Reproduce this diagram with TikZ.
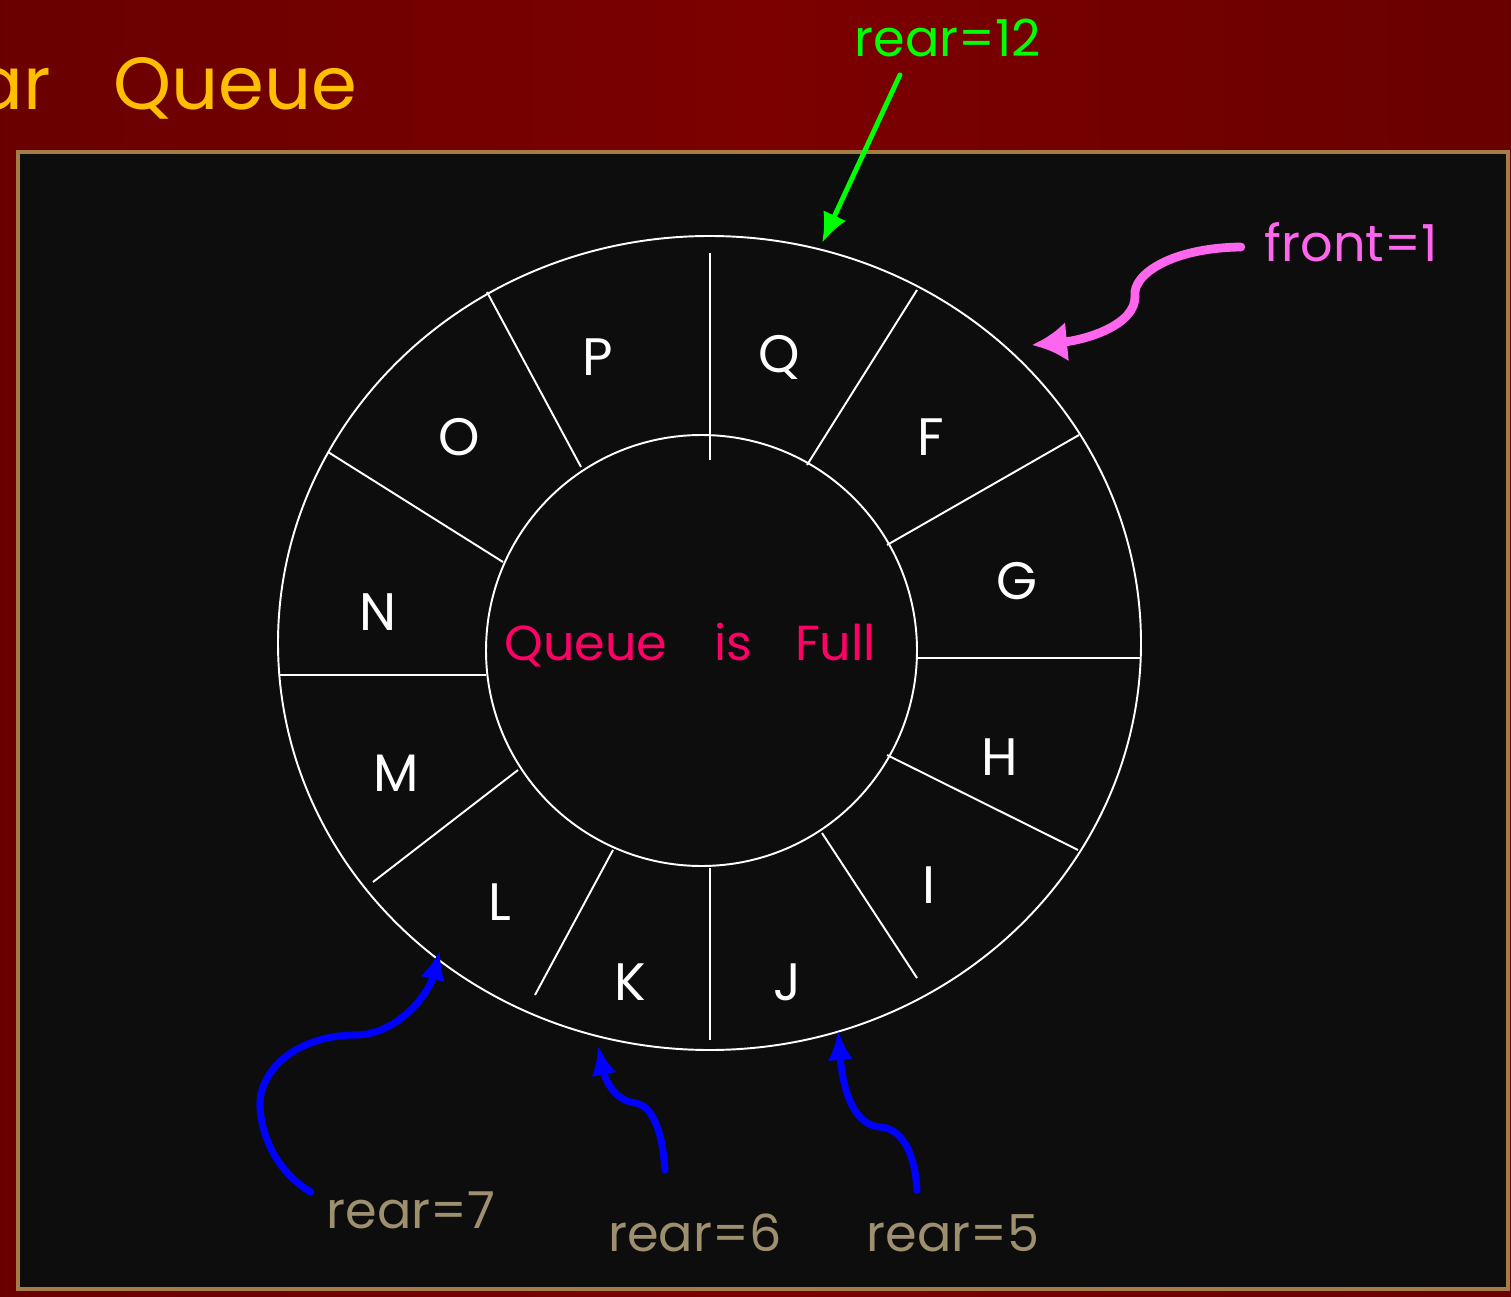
\documentclass[tikz,border=0pt]{standalone}
\usepackage{fontspec}
\setmainfont{Poppins}
\usetikzlibrary{positioning, arrows.meta, calc}
\definecolor{bgred}{RGB}{124,0,0}
\definecolor{boxfill}{RGB}{13,13,13}
\definecolor{boxborder}{RGB}{165,124,69}
\definecolor{titleamber}{RGB}{255,191,0}
\definecolor{fullpink}{RGB}{255,0,102}
\definecolor{frontpink}{RGB}{255,102,238}
\definecolor{reargreen}{RGB}{0,255,0}
\definecolor{rearblue}{RGB}{0,0,255}
\definecolor{reartan}{RGB}{158,143,110}
\tikzset{
  cell/.style={text=white, font=\fontsize{30}{36}\selectfont, inner sep=0pt},
  ptrlabel/.style={font=\fontsize{29}{35}\selectfont, inner sep=2pt},
  spoke/.style={white, line width=1.1pt},
  ptrarrow/.style={line width=4pt, line cap=round, -{Latex[length=6mm,width=5mm]}}
}

\begin{document}
\begin{tikzpicture}[x=0.02cm, y=-0.02cm]
  \useasboundingbox (0,0) rectangle (1511,1297);
  \clip (0,0) rectangle (1511,1297);

  % fondo rojo y caja negra
  \shade[left color=bgred!85!black, right color=bgred!85!black, middle color=bgred] (0,0) rectangle (1511,1297);
  \draw[boxborder, line width=2.2pt, fill=boxfill] (18,152) rectangle (1508,1289);

  % titulo (cortado a la izquierda)
  \node[anchor=east, text=titleamber, font=\fontsize{42}{48}\selectfont, inner sep=0pt] (title) at (358,88) {ar\hspace{1.25cm}Queue};

  % anillo de la cola
  \draw[white, line width=1.1pt] (709.5,643) ellipse [x radius=431.5, y radius=407];
  \draw[white, line width=1.1pt] (701.5,650.5) circle [radius=215.5];
  \foreach \ax/\ay/\bx/\by in {
      710/460/710/253, 807/465/917/290, 887/545/1079/435,
      918/658/1141/658, 887/755/1078/850, 822/833/917/978,
      710/868/710/1040, 613/850/535/995, 518/770/373/882,
      486/675/279/675, 503/562/328/452, 581/467/487/292
  } {
    \draw[spoke] (\ax,\ay) -- (\bx,\by);
  }

  % elementos
  \foreach \name/\px/\py in {
      P/598/357, Q/779/357, F/931/437, G/1017/581, H/1000/757, I/929/885,
      J/787/982, K/630/982, L/500/902, M/396/773, N/378/612, O/459/437
  } {
    \node[cell] (cell\name) at (\px,\py) {\name};
  }

  \node[text=fullpink, font=\fontsize{28}{34}\selectfont, inner sep=0pt] (full) at (690,645) {Queue\hspace{0.95cm}is\hspace{0.85cm}Full};

  % punteros
  \node[ptrlabel, text=reargreen] (r12) at (948,38) {rear=12};
  \node[ptrlabel, text=frontpink] (front) at (1351,242) {front=1};
  \node[ptrlabel, text=reartan] (r7) at (411,1210) {rear=7};
  \node[ptrlabel, text=reartan] (r6) at (695,1233) {rear=6};
  \node[ptrlabel, text=reartan] (r5) at (953,1233) {rear=5};

  \coordinate (tip12) at (822,243);
  \coordinate (tipfront) at (1032,345);
  \coordinate (tip7) at (440,950);
  \coordinate (tip6) at (598,1045);
  \coordinate (tip5) at (838,1030);

  \draw[ptrarrow, reargreen, line width=2.8pt] ($(r12.south)+(-48,14)$) -- (tip12);
  \draw[ptrarrow, frontpink, line width=5pt, -{Latex[length=7mm,width=8mm]}]
    ($(front.west)+(-20,5)$) .. controls (1170,248) and (1133,275) .. (1135,295)
    .. controls (1137,325) and (1085,340) .. (tipfront);
  \draw[ptrarrow, rearblue]
    ($(r7.west)+(-12,-18)$) .. controls (265,1165) and (255,1110) .. (262,1090)
    .. controls (275,1050) and (320,1035) .. (355,1035)
    .. controls (400,1035) and (430,990) .. (tip7);
  \draw[ptrarrow, rearblue]
    ($(r6.north)+(-30,-40)$) .. controls (662,1125) and (650,1105) .. (635,1103)
    .. controls (612,1100) and (604,1075) .. (tip6);
  \draw[ptrarrow, rearblue]
    ($(r5.north)+(-36,-20)$) .. controls (915,1150) and (900,1128) .. (880,1127)
    .. controls (850,1125) and (842,1080) .. (tip5);
\end{tikzpicture}
\end{document}
